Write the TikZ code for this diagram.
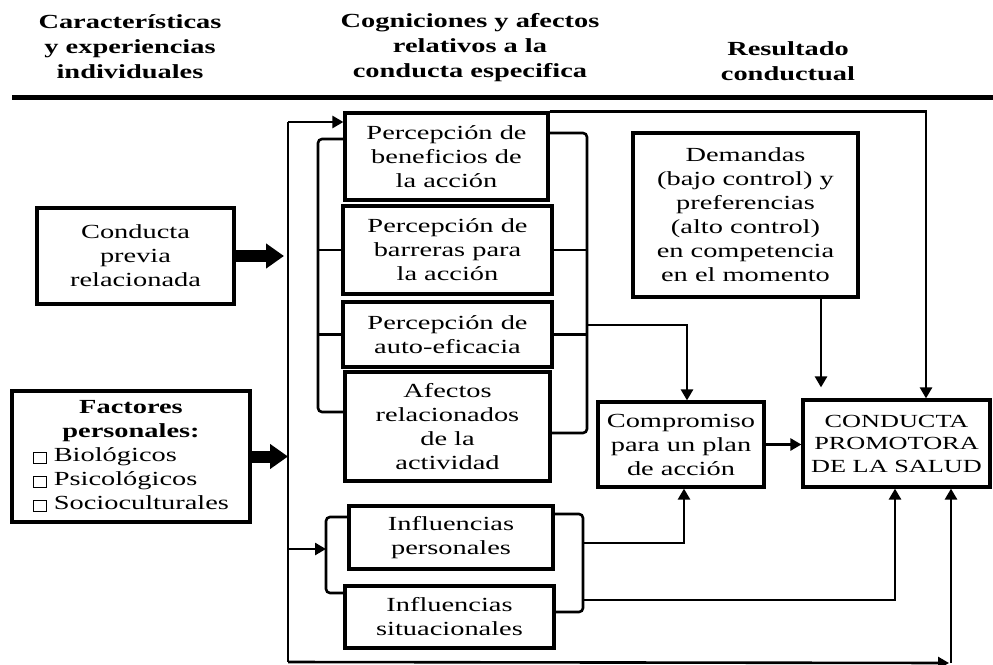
\documentclass[tikz,border=0pt]{standalone}
\usepackage{fontspec}
\setmainfont{Liberation Serif}[FakeStretch=1.42]
\usetikzlibrary{arrows.meta}
\newcommand{\casilla}{\raisebox{-2pt}{\setlength{\fboxsep}{0pt}\setlength{\fboxrule}{0.8pt}\fbox{\rule{0pt}{11pt}\hspace{12pt}}}}

\begin{document}
\begin{tikzpicture}[x=1pt,y=-1pt,>={Triangle[length=11pt,width=12pt]},
  caja/.style={draw,line width=3.2pt,align=center,inner sep=0pt,font=\fontsize{20}{24}\selectfont},
  titulo/.style={align=center,font=\fontsize{20}{25}\selectfont\bfseries},
  linea/.style={line width=2.6pt},
  gruesa/.style={line width=12pt,-{Triangle[length=18pt,width=24pt]}}]
\useasboundingbox (0,0) rectangle (993,664);

\node[titulo] (t1) at (130,47) {Características\\y experiencias\\individuales};
\node[titulo] (t2) at (470,48) {Cogniciones y afectos\\relativos a la\\conducta especifica};
\node[titulo] (t3) at (788,61) {Resultado\\conductual};
\coordinate (rI) at (12,97);
\coordinate (rD) at (993,97);
\draw[line width=5pt] (rI) -- (rD);

\node[caja,minimum width=197pt,minimum height=96pt] (prev) at (135.5,256) {Conducta\\previa\\relacionada};
\node[caja,minimum width=238pt,minimum height=131pt] (fact) at (131,456.5) {\begin{tabular}{@{}l@{}}
\multicolumn{1}{@{}c@{}}{\bfseries Factores}\\
\multicolumn{1}{@{}c@{}}{\bfseries personales:}\\
\casilla\ Biológicos\\
\casilla\ Psicológicos\\
\casilla\ Socioculturales
\end{tabular}};
\node[caja,minimum width=203pt,minimum height=87pt] (benef) at (446.5,156.5) {Percepción de\\beneficios de\\la acción};
\node[caja,minimum width=209pt,minimum height=88pt] (barr) at (447.5,250) {Percepción de\\barreras para\\la acción};
\node[caja,minimum width=209pt,minimum height=65pt] (auto) at (447.5,334.5) {Percepción de\\auto-eficacia};
\node[caja,minimum width=205pt,minimum height=109pt] (afec) at (447.5,426.5) {Afectos\\relacionados\\de la\\actividad};
\node[caja,minimum width=225pt,minimum height=164pt] (dem) at (745.5,215) {Demandas\\(bajo control) y\\preferencias\\(alto control)\\en competencia\\en el momento};
\node[caja,minimum width=166pt,minimum height=85pt] (comp) at (681,444.5) {Compromiso\\para un plan\\de acción};
\node[caja,minimum width=187pt,minimum height=87pt,font=\fontsize{18.5}{22.5}\selectfont] (cond) at (896.5,443.5) {CONDUCTA\\PROMOTORA\\DE LA SALUD};
\node[caja,minimum width=204pt,minimum height=63pt] (infp) at (451,537.5) {Influencias\\personales};
\node[caja,minimum width=209pt,minimum height=62pt] (infs) at (449.5,617) {Influencias\\situacionales};

% linea vertical de entrada
\coordinate (busA) at (288,122);
\coordinate (busB) at (288,662);
\coordinate (esq) at (951,663);
\draw[linea] (busA) -- (busB);
\draw[gruesa,shorten >=4pt] (prev.east) -- (prev.east -| busA);
\draw[gruesa] (fact.east) -- (fact.east -| busA);
\draw[linea,->] (busA) -- (busA -| benef.west);

% llaves de las cogniciones
\coordinate (cI1) at (318,139);
\coordinate (cI2) at (318,412);
\draw[linea,rounded corners=4pt] (benef.west |- cI1) -- (cI1) -- (cI2) -- (afec.west |- cI2);
\draw[linea] (cI1 |- barr.west) -- (barr.west);
\draw[linea] (cI1 |- auto.west) -- (auto.west);
\coordinate (cD1) at (587,133);
\coordinate (cD2) at (587,433);
\coordinate (cD3) at (587,325);
\draw[linea,rounded corners=4pt] (benef.east |- cD1) -- (cD1) -- (cD2) -- (afec.east |- cD2);
\draw[linea] (barr.east) -- (cD1 |- barr.east);
\draw[linea] (auto.east) -- (cD1 |- auto.east);
\draw[linea,->] (cD3) -| ([xshift=6pt]comp.north);

% llaves de las influencias
\coordinate (iI1) at (326,517);
\coordinate (iI2) at (326,593);
\coordinate (iI3) at (326,549);
\draw[linea,rounded corners=4pt] (infp.west |- iI1) -- (iI1) -- (iI2) -- (infs.west |- iI2);
\draw[linea,->] (busA |- iI3) -- (iI3);
\coordinate (iD1) at (583,514);
\coordinate (iD2) at (583,612);
\coordinate (iD3) at (583,543);
\coordinate (iD4) at (583,600);
\draw[linea,rounded corners=4pt] (infp.east |- iD1) -- (iD1) -- (iD2) -- (infs.east |- iD2);
\draw[linea,->] (iD3) -| ([xshift=3pt]comp.south);
\draw[linea,->] (iD4) -| ([xshift=-1.5pt]cond.south);

% resultado
\draw[linea,->] (benef.north east) -| ([xshift=29.5pt]cond.north);
\draw[linea,->,shorten >=11pt] ([xshift=75.5pt]dem.south) -- ([xshift=75.5pt]dem.south |- cond.north);
\draw[linea,->] (comp.east) -- (comp.east -| cond.west);
\draw[linea,->,shorten >=2pt] (busB) -- (esq);
\draw[linea,->] (esq) -- (esq |- cond.south);
\end{tikzpicture}
\end{document}
